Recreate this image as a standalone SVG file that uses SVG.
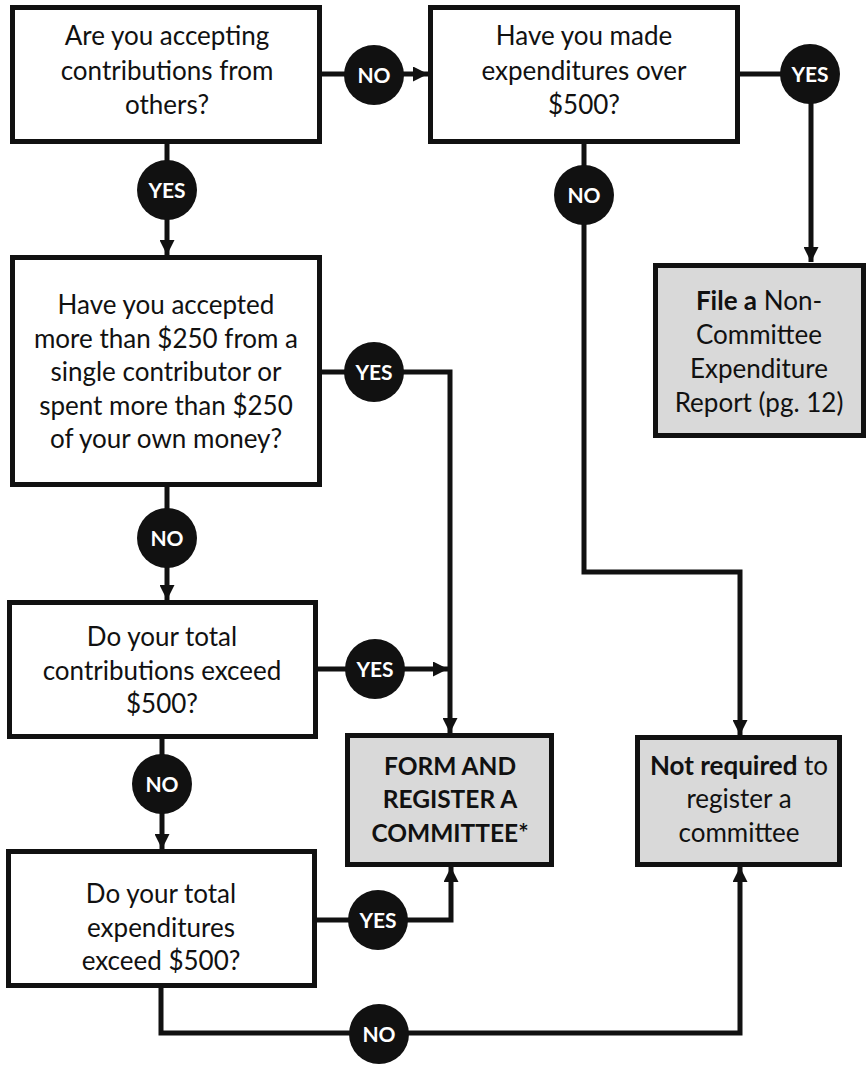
<svg xmlns="http://www.w3.org/2000/svg" width="868" height="1065" viewBox="0 0 868 1065">
<defs>
<marker id="ah" viewBox="0 0 10 10" refX="10" refY="5" markerWidth="3" markerHeight="3" orient="auto" markerUnits="strokeWidth">
<path d="M0,0 L10,5 L0,10 z" fill="#111"/>
</marker>
<style>
.box{fill:#fff;stroke:#111;stroke-width:5}
.out{fill:#d9d9d9;stroke:#111;stroke-width:5}
.t{font-family:Lato,"Liberation Sans",sans-serif;font-size:26px;fill:#111;text-anchor:middle}
.b{font-weight:bold}
.bb{font-size:24.5px}
.c{fill:none;stroke:#111;stroke-width:5;stroke-linejoin:miter}
.a{marker-end:url(#ah)}
.dot{fill:#111}
.l{font-family:Lato,"Liberation Sans",sans-serif;font-size:21px;font-weight:bold;fill:#fff;text-anchor:middle}
</style>
</defs>
<rect width="868" height="1065" fill="#fff"/>
<g id="connectors">
<polyline class="c a" points="322,74 428,74"/>
<polyline class="c a" points="167,144 167,255"/>
<polyline class="c a" points="740,74 811,74 811,262"/>
<polyline class="c a" points="584,144 584,572 740,572 740,735"/>
<polyline class="c a" points="322,372 450,372 450,733"/>
<polyline class="c a" points="167,487 167,600"/>
<polyline class="c a" points="318,669 448,669"/>
<polyline class="c a" points="162,739 162,849"/>
<polyline class="c a" points="317,920 451,920 451,867"/>
<polyline class="c a" points="161,988 161,1033 740,1033 740,867"/>
<g id="labels">
<circle class="dot" cx="374" cy="75" r="30"/><text class="l" x="374" y="82.5">NO</text>
<circle class="dot" cx="167" cy="190" r="30"/><text class="l" x="167" y="197.5">YES</text>
<circle class="dot" cx="810" cy="74" r="30"/><text class="l" x="810" y="81.5">YES</text>
<circle class="dot" cx="584" cy="195" r="30"/><text class="l" x="584" y="202.5">NO</text>
<circle class="dot" cx="374" cy="372" r="30"/><text class="l" x="374" y="379.5">YES</text>
<circle class="dot" cx="167" cy="538" r="30"/><text class="l" x="167" y="545.5">NO</text>
<circle class="dot" cx="375" cy="669" r="30"/><text class="l" x="375" y="676.5">YES</text>
<circle class="dot" cx="162" cy="784" r="30"/><text class="l" x="162" y="791.5">NO</text>
<circle class="dot" cx="378" cy="920" r="30"/><text class="l" x="378" y="927.5">YES</text>
<circle class="dot" cx="379" cy="1034" r="30"/><text class="l" x="379" y="1041.5">NO</text>
</g>
</g>
<g id="q1">
<rect class="box" x="12.5" y="7.5" width="307" height="134"/>
<text class="t" x="167" y="45">Are you accepting</text>
<text class="t" x="167" y="80">contributions from</text>
<text class="t" x="167" y="114">others?</text>
</g>
<g id="q2">
<rect class="box" x="430.5" y="7.5" width="307" height="134"/>
<text class="t" x="584" y="45">Have you made</text>
<text class="t" x="584" y="80">expenditures over</text>
<text class="t" x="584" y="114">$500?</text>
</g>
<g id="q3">
<rect class="box" x="12.5" y="257.5" width="307" height="227"/>
<text class="t" x="166" y="314">Have you accepted</text>
<text class="t" x="166" y="348">more than $250 from a</text>
<text class="t" x="166" y="381">single contributor or</text>
<text class="t" x="166" y="415">spent more than $250</text>
<text class="t" x="166" y="448">of your own money?</text>
</g>
<g id="q4">
<rect class="box" x="9.5" y="602.5" width="306" height="134"/>
<text class="t" x="162" y="646">Do your total</text>
<text class="t" x="162" y="680">contributions exceed</text>
<text class="t" x="162" y="713">$500?</text>
</g>
<g id="q5">
<rect class="box" x="8.5" y="851.5" width="306" height="134"/>
<text class="t" x="161" y="903">Do your total</text>
<text class="t" x="161" y="937">expenditures</text>
<text class="t" x="161" y="970">exceed $500?</text>
</g>
<g id="fileReport">
<rect class="out" x="655.5" y="265.5" width="208" height="170"/>
<text class="t" x="759" y="310"><tspan class="b">File a</tspan> Non-</text>
<text class="t" x="759" y="344">Committee</text>
<text class="t" x="759" y="378">Expenditure</text>
<text class="t" x="759" y="412">Report (pg. 12)</text>
</g>
<g id="formCommittee">
<rect class="out" x="347.5" y="735.5" width="204" height="129"/>
<text class="t b bb" x="450" y="775">FORM AND</text>
<text class="t b bb" x="450" y="808">REGISTER A</text>
<text class="t b bb" x="450" y="842">COMMITTEE*</text>
</g>
<g id="notRequired">
<rect class="out" x="637.5" y="737.5" width="202" height="127"/>
<text class="t" x="739" y="775"><tspan class="b">Not required</tspan> to</text>
<text class="t" x="739" y="808">register a</text>
<text class="t" x="739" y="842">committee</text>
</g>
</svg>
